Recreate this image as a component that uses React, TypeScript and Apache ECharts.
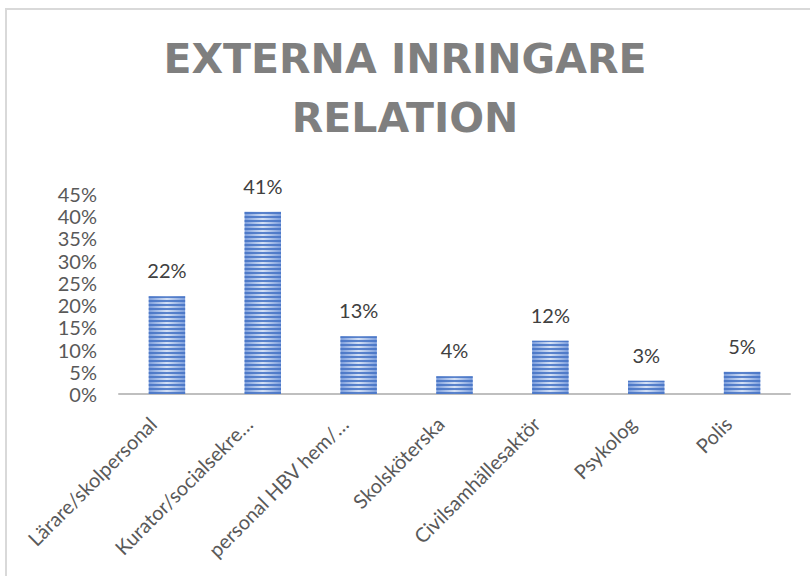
import React, { useEffect, useRef } from "react";
import * as echarts from "echarts";

const categories = [
  "Lärare/skolpersonal",
  "Kurator/socialsekre…",
  "personal HBV hem/…",
  "Skolsköterska",
  "Civilsamhällesaktör",
  "Psykolog",
  "Polis",
];
const values = [0.22, 0.41, 0.13, 0.04, 0.12, 0.03, 0.05];
const titleText = "EXTERNA INRINGARE\nRELATION";

export default function App() {
  const ref = useRef<HTMLDivElement>(null);
  useEffect(() => {
    if (!ref.current) return;
    const chart = echarts.init(ref.current, null, { renderer: "svg" });
    const font = "Lato, 'Open Sans', sans-serif";
    chart.setOption({
      animation: false,
      backgroundColor: "#ffffff",
      title: {
        text: titleText,
        left: "center",
        top: 24,
        textStyle: {
          fontFamily: "'DejaVu Sans', sans-serif",
          fontWeight: "bold",
          fontSize: 41,
          color: "#7f7f7f",
          lineHeight: 59,
        },
      },
      graphic: [
        {
          type: "rect",
          shape: { x: 6, y: 9, width: 900, height: 700 },
          style: { fill: "none", stroke: "#d9d9d9", lineWidth: 2 },
          silent: true,
        },
      ],
      grid: { left: 119, right: 20, top: 194, bottom: 182, containLabel: false },
      xAxis: {
        type: "category",
        data: categories,
        axisLine: { show: true, lineStyle: { color: "#bfbfbf", width: 2 } },
        axisTick: { show: false },
        axisLabel: {
          rotate: 45,
          interval: 0,
          margin: 12,
          padding: [0, 20, 0, 0],
          fontFamily: font,
          fontSize: 20,
          color: "#595959",
        },
      },
      yAxis: {
        type: "value",
        min: 0,
        max: 0.45,
        interval: 0.05,
        splitLine: { show: false },
        axisLine: { show: false },
        axisTick: { show: false },
        axisLabel: {
          fontFamily: font,
          fontSize: 20,
          color: "#595959",
          margin: 22,
          formatter: (v: number) => Math.round(v * 100) + "%",
        },
      },
      series: [
        {
          type: "bar",
          data: values,
          barWidth: "38%",
          itemStyle: {
            color: {
              type: "linear",
              x: 0,
              y: 0,
              x2: 1,
              y2: 0,
              colorStops: [
                { offset: 0, color: "#7b9ddc" },
                { offset: 0.5, color: "#d5e1f5" },
                { offset: 1, color: "#7b9ddc" },
              ],
            },
            decal: {
              symbol: "rect",
              symbolSize: 1,
              dashArrayX: [1, 0],
              dashArrayY: [2, 2],
              rotation: 0,
              color: "rgba(68,114,196,0.85)",
            },
          },
          label: {
            show: true,
            position: "top",
            distance: 16,
            fontFamily: font,
            fontSize: 20,
            color: "#404040",
            formatter: (p: any) => Math.round(p.value * 100) + "%",
          },
        },
      ],
    });
    return () => chart.dispose();
  }, []);
  return (
    <div
      ref={ref}
      style={{ position: "fixed", left: 0, top: 0, width: 810, height: 576 }}
    />
  );
}
